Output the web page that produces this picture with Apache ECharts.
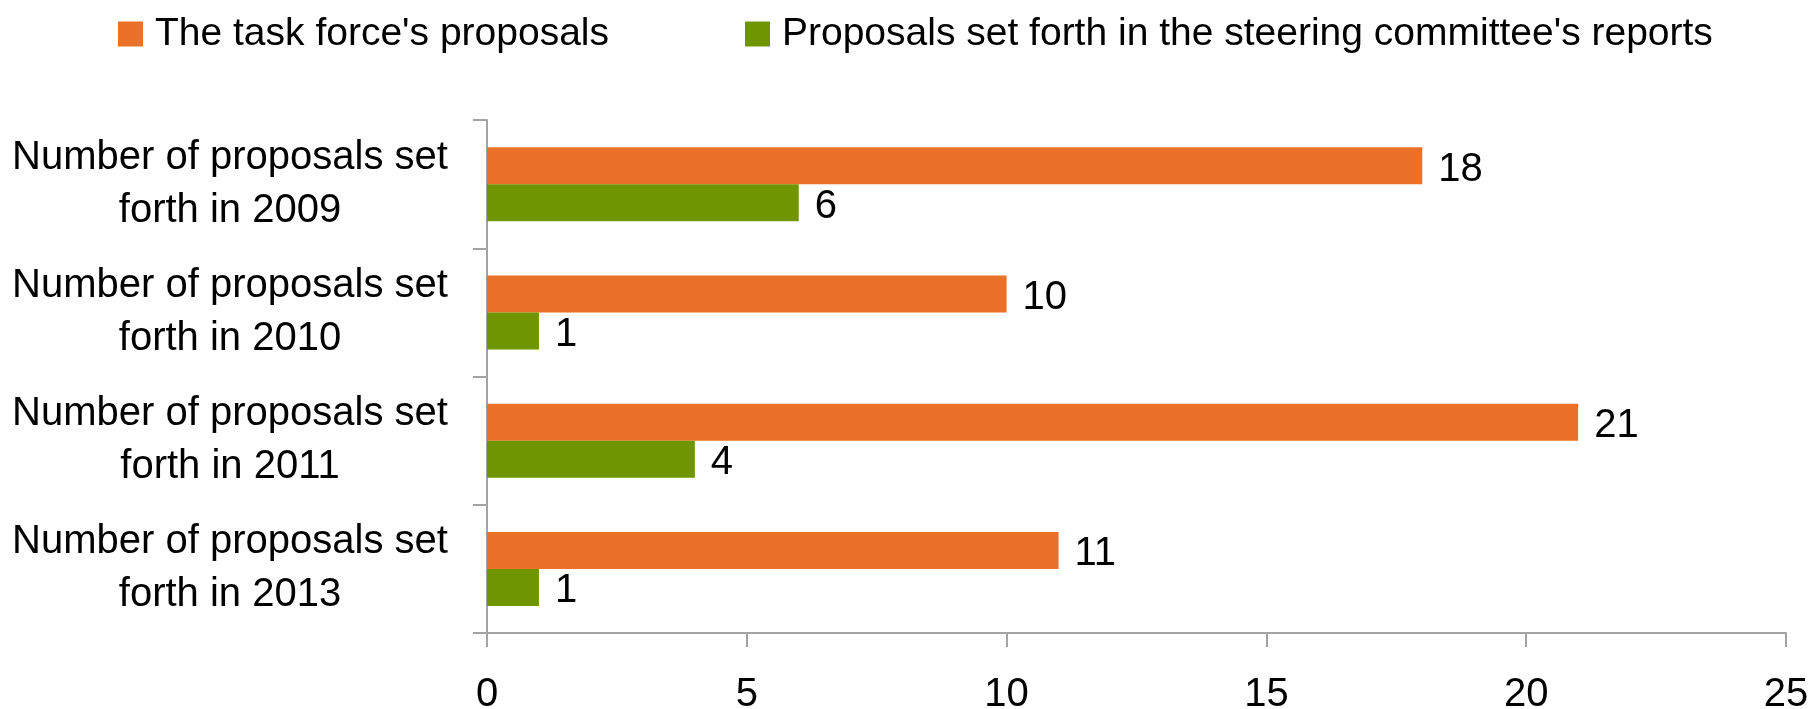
<!DOCTYPE html>
<html>
<head>
<meta charset="utf-8">
<script src="https://cdn.jsdelivr.net/npm/echarts@6/dist/echarts.min.js"></script>
<style>
html,body{margin:0;padding:0;background:#fff;}
#main{width:1816px;height:709px;}
</style>
</head>
<body>
<div id="main"></div>
<script>
const categories = [
  'Number of proposals set\nforth in 2009',
  'Number of proposals set\nforth in 2010',
  'Number of proposals set\nforth in 2011',
  'Number of proposals set\nforth in 2013'
];
const seriesNames = ["The task force's proposals", "Proposals set forth in the steering committee's reports"];
const taskForce = [18, 10, 21, 11];
const steering = [6, 1, 4, 1];
const xTicks = { min: 0, max: 25, interval: 5 };

const FONT = "'Liberation Sans', Arial, sans-serif";
const FS = 40;
const AXIS_COLOR = '#a3a3a3';

const chart = echarts.init(document.getElementById('main'), null, { renderer: 'canvas' });
chart.setOption({
  animation: false,
  backgroundColor: '#ffffff',
  textStyle: { fontFamily: FONT, color: '#000' },
  legend: {
    left: 113,
    top: 5,
    width: 1700,
    icon: 'rect',
    itemWidth: 25,
    itemHeight: 25,
    itemGap: 136,
    textStyle: { fontFamily: FONT, fontSize: 39, color: '#000', lineHeight: 48, padding: [0, 0, 0, 7] },
    data: seriesNames
  },
  grid: { left: 487, right: 30, top: 120, bottom: 76, containLabel: false, outerBoundsMode: 'none' },
  xAxis: {
    type: 'value',
    min: xTicks.min,
    max: xTicks.max,
    interval: xTicks.interval,
    axisLine: { show: true, lineStyle: { color: AXIS_COLOR, width: 2 } },
    axisTick: { show: true, length: 14, lineStyle: { color: AXIS_COLOR, width: 2 } },
    splitLine: { show: false },
    axisLabel: { fontFamily: FONT, fontSize: FS, color: '#000', margin: 42 }
  },
  yAxis: {
    type: 'category',
    inverse: true,
    data: categories,
    axisLine: { show: true, lineStyle: { color: AXIS_COLOR, width: 2 } },
    axisTick: { show: true, length: 14, lineStyle: { color: AXIS_COLOR, width: 2 } },
    axisLabel: {
      fontFamily: FONT, fontSize: FS, color: '#000',
      align: 'center', margin: 257, lineHeight: 53,
      padding: [8, 0, 0, 0]
    }
  },
  series: [
    {
      name: seriesNames[0],
      type: 'bar',
      data: taskForce,
      barWidth: 37,
      barGap: '0%',
      itemStyle: { color: '#EB7028' },
      label: { show: true, position: 'right', distance: 16, fontFamily: FONT, fontSize: FS, color: '#000', offset: [0, 4] }
    },
    {
      name: seriesNames[1],
      type: 'bar',
      data: steering,
      barWidth: 37,
      barGap: '0%',
      itemStyle: { color: '#6F9600' },
      label: { show: true, position: 'right', distance: 16, fontFamily: FONT, fontSize: FS, color: '#000', offset: [0, 4] }
    }
  ]
});
</script>
</body>
</html>
